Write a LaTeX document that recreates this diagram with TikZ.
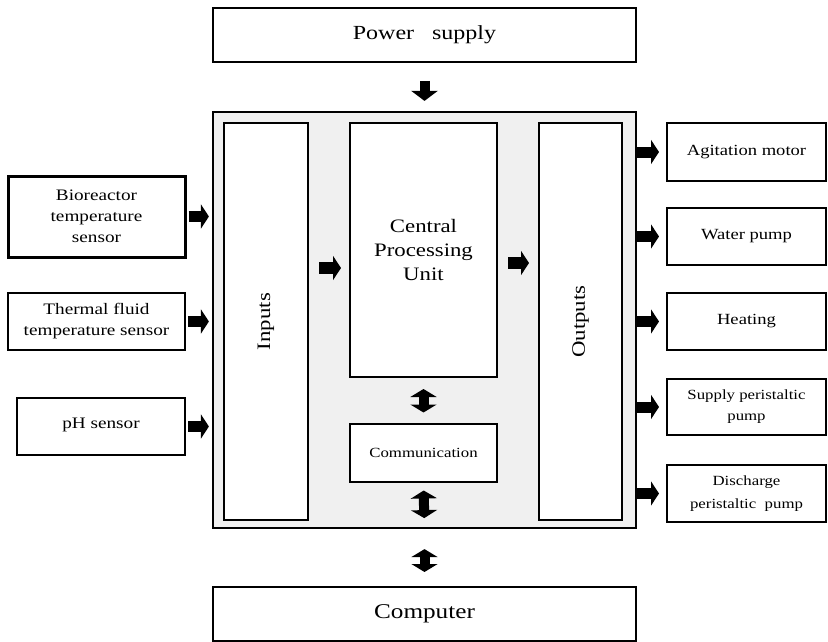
\documentclass[tikz,border=0pt]{standalone}
\usepackage{fontspec}
\setmainfont{Liberation Serif}[FakeStretch=1.2]
\usetikzlibrary{arrows.meta}
\begin{document}
\begin{tikzpicture}[x=1pt,y=-1pt,
  box/.style={draw, line width=2pt, fill=white, align=center, inner sep=0pt},
  rbox/.style={box, minimum width=159pt, font=\fontsize{15.5}{21}\selectfont},
  lbox/.style={box, font=\fontsize{16}{21}\selectfont},
  sarr/.style={line width=11pt, -{Triangle[length=8pt,width=24pt]}},
  parr/.style={line width=10pt, -{Triangle[length=10pt,width=26pt]}},
  darr/.style={line width=10pt, {Triangle[length=8pt,width=26pt]}-{Triangle[length=8pt,width=26pt]}}
]
\useasboundingbox (0,0) rectangle (828,642);

\node[box, minimum width=423pt, minimum height=54pt, font=\fontsize{20}{24}\selectfont] (power) at (424.5,35) {Power\ \ \ supply};
\node[draw, line width=2.2pt, fill=gray!12, minimum width=423pt, minimum height=416pt] (big) at (424.5,320) {};
\node[box, minimum width=84pt, minimum height=397pt, font=\fontsize{19}{24}\selectfont] (inputs) at (266,321.5) {\rotatebox{90}{Inputs}};
\node[box, minimum width=147pt, minimum height=254pt, font=\fontsize{19}{24}\selectfont] (cpu) at (423.5,250) {Central\\Processing\\Unit};
\node[box, minimum width=147pt, minimum height=58pt, font=\fontsize{14}{18}\selectfont] (comm) at (423.5,452.5) {Communication};
\node[box, minimum width=83pt, minimum height=397pt, font=\fontsize{19}{24}\selectfont] (outputs) at (580.5,321.5) {\rotatebox{90}{Outputs}};
\node[box, minimum width=423pt, minimum height=54pt, font=\fontsize{21}{25}\selectfont] (computer) at (424.5,614) {Computer};

\node[lbox, line width=3pt, minimum width=177pt, minimum height=81pt] (bio) at (96.5,216.5) {Bioreactor\\temperature\\sensor};
\node[lbox, minimum width=177pt, minimum height=57pt] (thermal) at (96.5,321.5) {Thermal fluid\\temperature sensor};
\node[lbox, minimum width=168pt, minimum height=57pt] (ph) at (101,426.5) {\raisebox{7pt}{pH sensor}};

\node[rbox, minimum height=58pt] (agit) at (746.5,152) {Agitation motor};
\node[rbox, minimum height=57pt] (water) at (746.5,236.5) {Water pump};
\node[rbox, minimum height=57pt] (heat) at (746.5,321.5) {Heating};
\node[rbox, minimum height=56pt, font=\fontsize{14}{21}\selectfont] (supply) at (746.5,407) {Supply peristaltic\\pump};
\node[rbox, minimum height=57pt, font=\fontsize{14}{23}\selectfont] (disch) at (746.5,493.5) {Discharge\\peristaltic\ \ pump};

\draw[parr, shorten <=18pt, shorten >=10pt] (power.south) -- (big.north);
\foreach \n in {bio,thermal,ph}
  \draw[sarr, shorten <=2pt, shorten >=3pt] (\n.east) -- (\n.east -| big.west);
\foreach \n in {agit,water,heat,supply,disch}
  \draw[sarr, shorten <=0pt, shorten >=7pt] (\n.west -| big.east) -- (\n.west);
\draw[sarr, line width=12pt, shorten <=10pt, shorten >=8pt] ([yshift=-18pt]cpu.west -| inputs.east) -- ([yshift=-18pt]cpu.west);
\draw[sarr, line width=12pt, shorten <=10pt, shorten >=9pt] ([yshift=-13pt]cpu.east) -- ([yshift=-13pt]cpu.east -| outputs.west);
\draw[darr, shorten <=11pt, shorten >=10pt] (cpu.south) -- (comm.north);
\draw[darr, shorten <=8pt, shorten >=11pt] (comm.south) -- (big.south);
\draw[darr, shorten <=20pt, shorten >=14pt] (big.south) -- (computer.north);
\end{tikzpicture}
\end{document}
